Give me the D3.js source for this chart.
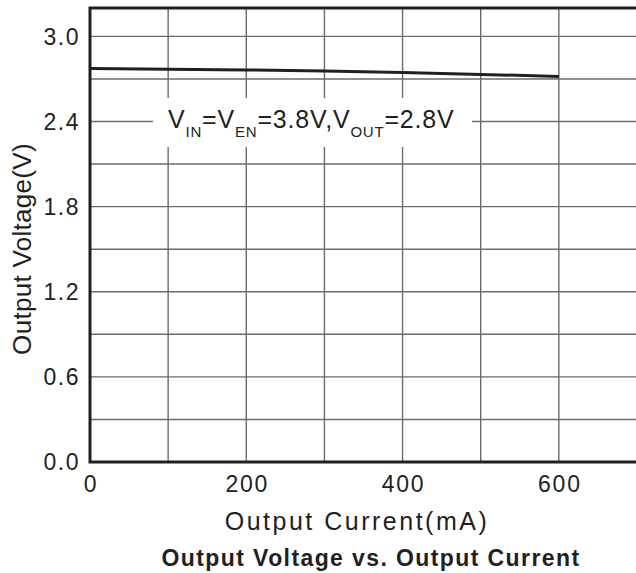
<!DOCTYPE html>
<html>
<head>
  <meta charset="utf-8">
  <script src="https://d3js.org/d3.v7.min.js"></script>
  <style>
    body { margin: 0; background: #fff; }
    text { font-family: "Liberation Sans", Arial, sans-serif; fill: #231f20; }
  </style>
</head>
<body>
  <svg width="636" height="573"></svg>
  <script>
    // data
    const current = [0, 100, 200, 300, 400, 500, 600];
    const voltage = [2.773, 2.768, 2.763, 2.756, 2.746, 2.732, 2.718];
    const xTicks = [0, 200, 400, 600];
    const yTicks = [0.0, 0.6, 1.2, 1.8, 2.4, 3.0];
    const xGrid = [100, 200, 300, 400, 500, 600, 700];
    const yGrid = [0.3, 0.6, 0.9, 1.2, 1.5, 1.8, 2.1, 2.4, 2.7, 3.0];

    const svg = d3.select("svg");
    const plotL = 90, plotT = 8, plotB = 462, plotR = 637;

    const x = d3.scaleLinear().domain([0, 700]).range([plotL, plotR]);
    const y = d3.scaleLinear().domain([0, 3.2]).range([plotB, plotT]);

    const g = svg.append("g");

    // grid
    g.selectAll(".vgrid")
      .data(xGrid)
      .enter().append("line")
      .attr("x1", d => x(d)).attr("x2", d => x(d))
      .attr("y1", plotT).attr("y2", plotB)
      .attr("stroke", "#6b6b6b").attr("stroke-width", 1.4);

    g.selectAll(".hgrid")
      .data(yGrid)
      .enter().append("line")
      .attr("x1", plotL).attr("x2", plotR)
      .attr("y1", d => y(d)).attr("y2", d => y(d))
      .attr("stroke", "#6b6b6b").attr("stroke-width", 1.4);

    // white box behind the condition label
    g.append("rect")
      .attr("x", 153).attr("y", 98)
      .attr("width", 319).attr("height", 49)
      .attr("fill", "#fff");

    // curve
    const line = d3.line()
      .x((d, i) => x(current[i]))
      .y(d => y(d));
    g.append("path")
      .datum(voltage)
      .attr("fill", "none")
      .attr("stroke", "#231f20")
      .attr("stroke-width", 3)
      .attr("d", line);

    // frame: left, bottom, top
    g.append("path")
      .attr("d", `M${plotR},${plotT}H${plotL}V${plotB}H${plotR}`)
      .attr("fill", "none")
      .attr("stroke", "#231f20")
      .attr("stroke-width", 3);

    // tick labels
    g.selectAll(".ylab")
      .data(yTicks)
      .enter().append("text")
      .attr("x", 80)
      .attr("y", d => y(d))
      .attr("dy", "0.36em")
      .attr("text-anchor", "end")
      .style("font-size", "23px")
      .style("letter-spacing", "1.5px")
      .text(d => d.toFixed(1));

    g.selectAll(".xlab")
      .data(xTicks)
      .enter().append("text")
      .attr("x", d => x(d) + 1)
      .attr("y", 492)
      .attr("text-anchor", "middle")
      .style("font-size", "23px")
      .style("letter-spacing", "1.8px")
      .text(d => d);

    // axis titles
    svg.append("text")
      .attr("x", 357).attr("y", 530)
      .attr("text-anchor", "middle")
      .style("font-size", "25px")
      .style("letter-spacing", "2.5px")
      .text("Output Current(mA)");

    svg.append("text")
      .attr("transform", "translate(31,249) rotate(-90)")
      .attr("text-anchor", "middle")
      .style("font-size", "26px")
      .style("letter-spacing", "0.3px")
      .text("Output Voltage(V)");

    svg.append("text")
      .attr("x", 371).attr("y", 566)
      .attr("text-anchor", "middle")
      .style("font-size", "23px")
      .style("font-weight", "bold")
      .style("letter-spacing", "1.4px")
      .text("Output Voltage vs. Output Current");

    // condition label
    const lab = svg.append("text")
      .attr("x", 168).attr("y", 128)
      .style("font-size", "25px")
      .style("letter-spacing", "0.8px");
    const parts = [["V", false], ["IN", true], ["=V", false], ["EN", true],
                   ["=3.8V,V", false], ["OUT", true], ["=2.8V", false]];
    parts.forEach(([t, sub]) => {
      lab.append("tspan")
        .attr("dy", sub ? 9 : (t === "V" ? 0 : -9))
        .style("font-size", sub ? "15px" : "25px")
        .text(t);
    });
  </script>
</body>
</html>
